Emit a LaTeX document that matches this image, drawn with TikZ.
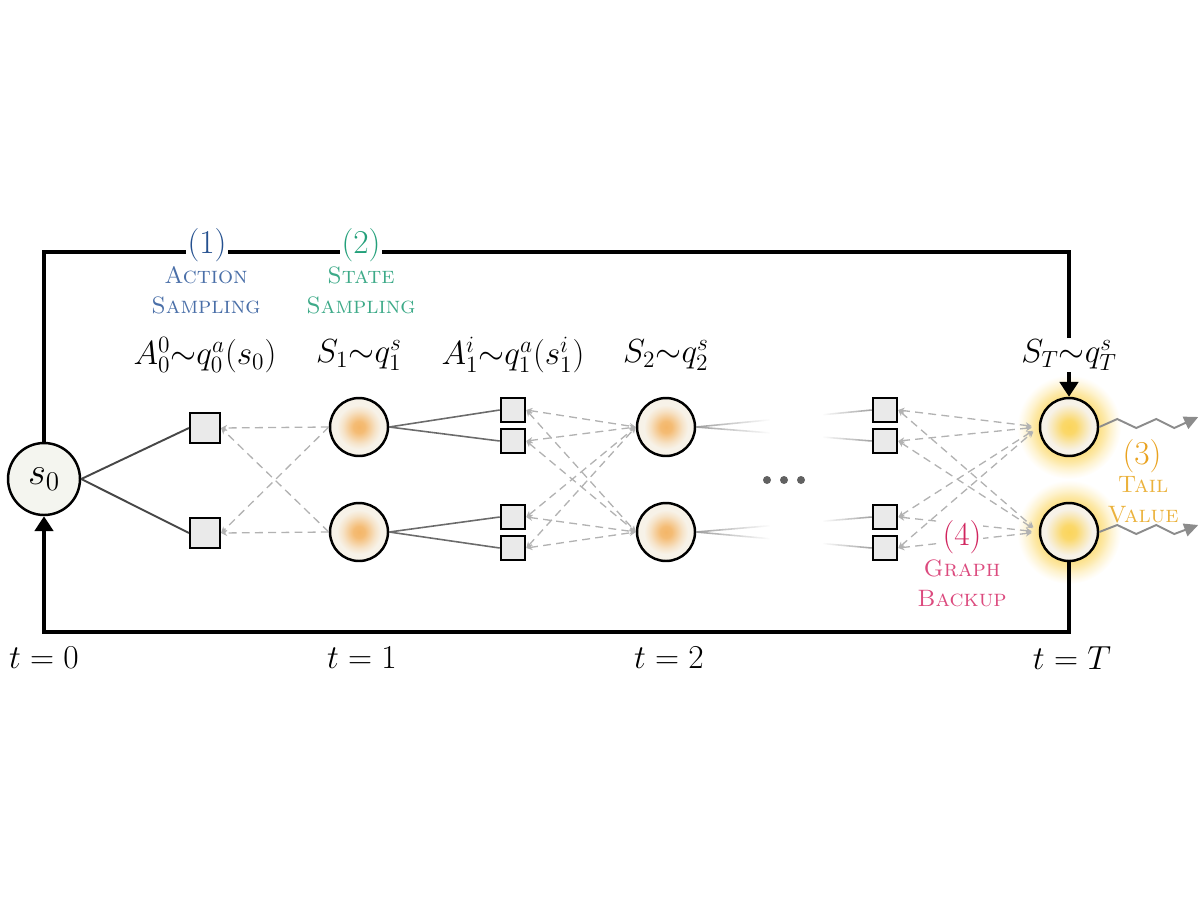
\RequirePackage{fix-cm}
\documentclass[tikz,border=0pt]{standalone}
\usepackage{fontspec}
\usetikzlibrary{arrows.meta,fadings,calc}
\definecolor{cblue}{HTML}{24508F}
\definecolor{cbluet}{HTML}{4A6FA8}
\definecolor{cgreen}{HTML}{23A07A}
\definecolor{cgreent}{HTML}{3DAA88}
\definecolor{corange}{HTML}{E9A21F}
\definecolor{coranget}{HTML}{EBB23C}
\definecolor{cpink}{HTML}{D1245E}
\definecolor{cpinkt}{HTML}{DC4A7E}
\definecolor{sorange}{HTML}{F4B668}
\definecolor{scream}{HTML}{F7F2E8}
\definecolor{syellow}{HTML}{FBD55C}
\definecolor{s0fill}{HTML}{F4F5EF}
\definecolor{sqfill}{HTML}{EAEAEA}
\pgfdeclareradialshading{glow}{\pgfpointorigin}{color(0bp)=(syellow!80!white); color(14bp)=(syellow!75!white); color(17bp)=(syellow!55!white); color(20bp)=(syellow!30!white); color(23bp)=(syellow!10!white); color(25bp)=(white); color(50bp)=(white)}
\pgfdeclareradialshading{sorb}{\pgfpointorigin}{color(0bp)=(sorange); color(5bp)=(sorange!90!scream); color(14bp)=(sorange!25!scream); color(19bp)=(scream); color(50bp)=(scream)}
\pgfdeclareradialshading{torb}{\pgfpointorigin}{color(0bp)=(syellow); color(6bp)=(syellow!90!scream); color(15bp)=(syellow!30!scream); color(20bp)=(scream); color(50bp)=(scream)}
\tikzfading[name=fadeoutright, left color=transparent!0, right color=transparent!100]
\tikzfading[name=fadeinright, left color=transparent!100, right color=transparent!0]
\newcommand\mathsz{\fontsize{19}{23}\selectfont}
\newcommand\numsz{\fontsize{19}{22}\selectfont}
\newcommand\capsz{\fontsize{13.5}{16}\selectfont}
\begin{document}
\begin{tikzpicture}[x=0.02cm,y=-0.02cm,
  frame/.style={line width=2pt, draw=black, line join=miter},
  bigtip/.style={-{Triangle[length=8.5pt,width=10.5pt]}},
  scirc/.style={circle, draw=black, line width=1.4pt, minimum size=1.16cm, inner sep=0pt, shading=sorb},
  tcirc/.style={scirc, shading=torb},
  bigsq/.style={rectangle, draw=black, line width=1.2pt, fill=sqfill, minimum size=0.6cm, inner sep=0pt},
  smsq/.style={bigsq, minimum size=0.49cm},
  sol/.style={line width=1.1pt, draw=black!72},
  sol2/.style={line width=0.9pt, draw=black!58},
  fadeline/.style={line width=0.9pt, draw=black!38},
  dedge/.style={draw=black!30, line width=0.75pt, dash pattern=on 4.5pt off 3pt},
  dtip/.style={-{Stealth[length=3.5pt,width=3.5pt]}},
  dboth/.style={{Stealth[length=3.5pt,width=3.5pt]}-{Stealth[length=3.5pt,width=3.5pt]}},
  wave/.style={draw=black!45, line width=1.1pt, line join=miter, -{Triangle[length=8pt,width=7.5pt]}},
  lab/.style={font=\mathsz, inner sep=1pt},
  num/.style={font=\numsz, fill=white, inner sep=1pt},
  captext/.style={font=\capsz, align=center, inner sep=0pt}
]
\useasboundingbox (0,0) rectangle (1200,900);
% glows
\shade[shading=glow] (1069,427) circle[radius=1.04cm];
\shade[shading=glow] (1069,532) circle[radius=1.04cm];
% nodes
\node[circle, draw=black, line width=1.4pt, fill=s0fill, minimum size=1.44cm, inner sep=0pt, font=\fontsize{22}{26}\selectfont] (s0) at (44,479) {$s_0$};
\node[bigsq] (A0a) at (205,428) {};
\node[bigsq] (A0b) at (205,533) {};
\node[scirc] (S1a) at (359,427) {};
\node[scirc] (S1b) at (359,532) {};
\node[smsq] (A1a) at (513,410) {};
\node[smsq] (A1b) at (513,441) {};
\node[smsq] (A1c) at (513,517) {};
\node[smsq] (A1d) at (513,548) {};
\node[scirc] (S2a) at (666,427) {};
\node[scirc] (S2b) at (666,532) {};
\node[smsq] (ARa) at (885,410) {};
\node[smsq] (ARb) at (885,441) {};
\node[smsq] (ARc) at (885,517) {};
\node[smsq] (ARd) at (885,548) {};
\node[tcirc] (Ta) at (1069,427) {};
\node[tcirc] (Tb) at (1069,532) {};
% dots
\fill[black!62] (767,480) circle[radius=0.08cm] (784,480) circle[radius=0.08cm] (801,480) circle[radius=0.08cm];
% frame
\coordinate (tl) at (44,252);
\coordinate (tr) at (1069,252);
\coordinate (bl) at (44,632);
\coordinate (br) at (1069,632);
\draw[frame, bigtip] (s0) -- (tl) -- (tr) -- (Ta);
\draw[frame, bigtip] (Tb) -- (br) -- (bl) -- (s0);
% solid edges
\draw[sol] (s0.east) -- (A0a.west);
\draw[sol] (s0.east) -- (A0b.west);
\draw[sol2] (S1a.east) -- (A1a.west);
\draw[sol2] (S1a.east) -- (A1b.west);
\draw[sol2] (S1b.east) -- (A1c.west);
\draw[sol2] (S1b.east) -- (A1d.west);
% fading edges
\foreach \s/\a in {S2a/ARa,S2a/ARb,S2b/ARc,S2b/ARd}{
  \draw[fadeline, path fading=fadeoutright] (\s.east) -- ($(\s.east)!0.42!(\a.west)$);
  \draw[fadeline, path fading=fadeinright] ($(\s.east)!0.72!(\a.west)$) -- (\a.west);
}
% dashed edges
\foreach \s in {S1a,S1b}{\foreach \a in {A0a,A0b}{
  \draw[dedge, dtip] (\s.west) -- (\a.east);}}
\foreach \s in {S2a,S2b}{\foreach \a in {A1a,A1b,A1c,A1d}{
  \draw[dedge, dboth] (\a.east) -- (\s.west);}}
\foreach \s in {Ta,Tb}{\foreach \a in {ARa,ARb,ARc,ARd}{
  \draw[dedge, dboth, shorten >=4pt] (\a.east) -- (\s.west);}}
% tail waves
\draw[wave] (Ta.east) -- ++(18,-8) -- ++(19,9) -- ++(20,-9) -- ++(18,9) -- ++(24,-11);
\draw[wave] (Tb.east) -- ++(18,-7) -- ++(19,9) -- ++(20,-9) -- ++(18,9) -- ++(24,-9);
% labels
\node[num, text=cblue] (n1) at (207,245) {(1)};
\node[captext, text=cbluet] (c1) at (206,290) {\textsc{Action}\\[1pt]\textsc{Sampling}};
\node[num, text=cgreen] (n2) at (361,245) {(2)};
\node[captext, text=cgreent] (c2) at (361,290) {\textsc{State}\\[1pt]\textsc{Sampling}};
\node[lab] (l1) at (205,355) {$A_0^0{\sim}q_0^a(s_0)$};
\node[lab] (l2) at (359,355) {$S_1{\sim}q_1^s$};
\node[lab] (l3) at (513,355) {$A_1^i{\sim}q_1^a(s_1^i)$};
\node[lab] (l4) at (666,355) {$S_2{\sim}q_2^s$};
\node[lab, fill=white] (l5) at (1069,355) {$S_T{\sim}q_T^s$};
\node[num, text=corange, fill=none] (n3) at (1142,456) {(3)};
\node[captext, text=coranget] (c3) at (1143,500) {\textsc{Tail}\\[1pt]\textsc{Value}};
\node[num, text=cpink] (n4) at (962,537) {(4)};
\node[captext, text=cpinkt, fill=white] (c4) at (962,583) {\textsc{Graph}\\[1pt]\textsc{Backup}};
\node[lab] (t0) at (44,658) {$t=0$};
\node[lab] (t1) at (362,658) {$t=1$};
\node[lab] (t2) at (669,658) {$t=2$};
\node[lab] (tT) at (1072,658) {$t=T$};
\end{tikzpicture}
\end{document}
